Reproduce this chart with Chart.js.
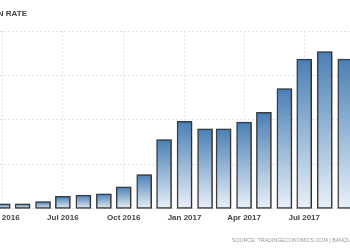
<!DOCTYPE html>
<html>
<head>
<meta charset="utf-8">
<script src="https://cdn.jsdelivr.net/npm/chart.js@4/dist/chart.umd.min.js"></script>
<style>
  html, body { margin: 0; padding: 0; background: #fff; }
  #wrap { position: relative; width: 350px; height: 250px; overflow: hidden; font-family: "Liberation Sans", Arial, sans-serif; }
  #chart { position: absolute; left: -40px; top: 0; }
  .title { position: absolute; right: 323px; top: 9px; font: bold 8px/10px "Liberation Sans", Arial, sans-serif; color: #444; white-space: nowrap; }
  .source { position: absolute; left: 232px; top: 236px; font: 5.3px/8px "Liberation Sans", Arial, sans-serif; color: #999; white-space: nowrap; }
</style>
</head>
<body>
<div id="wrap">
  <canvas id="chart" width="430" height="250"></canvas>
  <div class="title">INFLATION RATE</div>
  <div class="source">SOURCE: TRADINGECONOMICS.COM | BANQUE DE LA REPUBLIQUE DU BURUNDI</div>
</div>
<script>
// monthly values
const MONTHS = ["2016-04", "2016-05", "2016-06", "2016-07", "2016-08", "2016-09",
  "2016-10", "2016-11", "2016-12", "2017-01", "2017-02", "2017-03",
  "2017-04", "2017-05", "2017-06", "2017-07", "2017-08", "2017-09"];
const INFLATION = [0.58, 0.58, 0.81, 1.40, 1.55, 1.70,
  2.49, 3.87, 7.79, 9.84, 8.99, 8.99,
  9.75, 10.85, 13.54, 16.83, 17.68, 16.83];

const TICK_MONTHS = ["2016-04", "2016-07", "2016-10", "2017-01", "2017-04", "2017-07"];
const TICK_LABELS = ["Apr 2016", "Jul 2016", "Oct 2016", "Jan 2017", "Apr 2017", "Jul 2017"];

// visible window of the cropped picture
const VIEW_START = "2016-03-27T22:20:00Z";
const VIEW_END = "2017-09-08T05:00:00Z";

const ORIGIN = Date.UTC(2016, 0, 1);
function dayOf(str) {
  const s = str.length === 7 ? str + "-01T00:00:00Z" : str;
  return (Date.parse(s) - ORIGIN) / 864e5;
}

const TOP_BLUE = "#4a7fb5";
const BOTTOM_BLUE = "#e9f1f9";

function barFill(context) {
  const chart = context.chart;
  const y = chart.scales.y;
  if (!y || context.type !== "data" || !context.raw) return TOP_BLUE;
  const top = y.getPixelForValue(context.raw.y);
  const base = y.getPixelForValue(0);
  if (!Number.isFinite(top) || !Number.isFinite(base)) return TOP_BLUE;
  const g = chart.ctx.createLinearGradient(0, top, 0, base);
  g.addColorStop(0, TOP_BLUE);
  g.addColorStop(1, BOTTOM_BLUE);
  return g;
}

const barShadow = {
  id: "barShadow",
  beforeDatasetDraw(chart) {
    const c = chart.ctx;
    c.save();
    c.shadowColor = "rgba(0,0,0,0.25)";
    c.shadowOffsetX = 1;
    c.shadowOffsetY = 0;
    c.shadowBlur = 1;
  },
  afterDatasetDraw(chart) {
    chart.ctx.restore();
  },
};

const gridStyle = {
  color: "#e4e4e4",
  lineWidth: 1,
  drawTicks: false,
  offset: false,
};

new Chart(document.getElementById("chart"), {
  type: "bar",
  data: {
    datasets: [{
      data: MONTHS.map((m, i) => ({ x: dayOf(m), y: INFLATION[i] })),
      backgroundColor: barFill,
      borderColor: "#3d3d3d",
      borderWidth: 1.5,
      borderSkipped: false,
      barThickness: 15,
    }],
  },
  plugins: [barShadow],
  options: {
    responsive: false,
    animation: false,
    devicePixelRatio: 1,
    layout: { padding: { left: 40, right: 40, top: 31, bottom: 23.5 } },
    plugins: { legend: { display: false }, tooltip: { enabled: false } },
    scales: {
      x: {
        type: "linear",
        offset: false,
        min: dayOf(VIEW_START),
        max: dayOf(VIEW_END),
        grid: gridStyle,
        border: { display: false, dash: [2, 2] },
        afterBuildTicks(scale) {
          scale.ticks = TICK_MONTHS.map((m) => ({ value: dayOf(m) }));
        },
        ticks: {
          autoSkip: false,
          maxRotation: 0,
          padding: 4,
          color: "#444",
          font: { family: "'Liberation Sans', Arial, sans-serif", size: 8, weight: "bold" },
          callback(value) {
            const i = TICK_MONTHS.findIndex((m) => Math.abs(dayOf(m) - value) < 0.01);
            return i >= 0 ? TICK_LABELS[i] : "";
          },
        },
      },
      y: {
        position: "right",
        min: 0,
        max: 20,
        grid: gridStyle,
        border: { display: false, dash: [2, 2] },
        ticks: { display: false, stepSize: 5 },
      },
    },
  },
});
</script>
</body>
</html>
